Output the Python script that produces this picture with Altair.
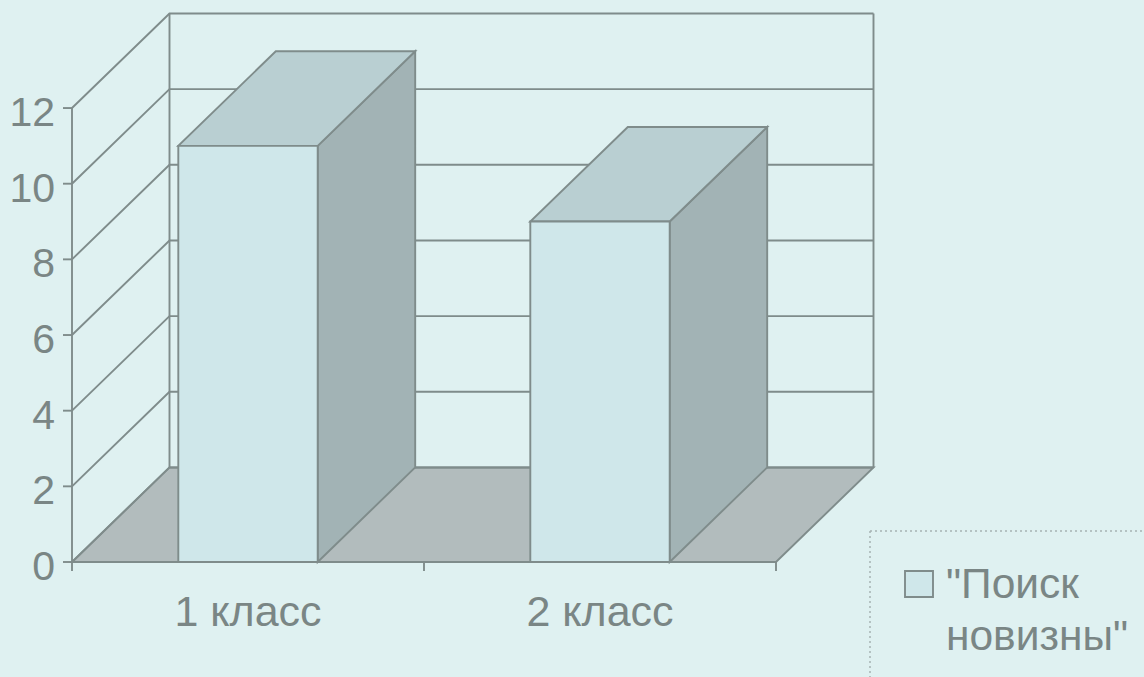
import altair as alt
import pandas as pd

# Chart content
categories = ["1 класс", "2 класс"]
values = [11, 9]
y_ticks = [0, 2, 4, 6, 8, 10, 12]
legend_lines = ['"Поиск', 'новизны"']

# Colours
BG = "#dff1f1"
FRONT = "#cfe7ea"
TOP = "#b9cfd2"
SIDE = "#a2b3b5"
FLOOR = "#b2bcbd"
LINE = "#7f8c8b"
TEXT = "#7a8685"
FONT = "Liberation Sans"
SW = 1.9

W, H = 1144, 677
ORIGIN_X, ORIGIN_Y = 72, 562
CAT_PX, UNIT_PX = 352, 37.83
DEPTH_X, DEPTH_Y = 97.5 / CAT_PX, 2.5
BAR_HALF = 0.198
Y_MAX = 12
N = len(categories)

x_scale = alt.Scale(domain=[-ORIGIN_X / CAT_PX, (W - ORIGIN_X) / CAT_PX], nice=False, zero=False)
y_scale = alt.Scale(domain=[(ORIGIN_Y - H) / UNIT_PX, ORIGIN_Y / UNIT_PX], nice=False, zero=False)
X = alt.X("x:Q", scale=x_scale, axis=None)
Y = alt.Y("y:Q", scale=y_scale, axis=None, stack=None)

# Wireframe of the walls and axes, one polyline per id
segments = []


def seg(name, *pts):
    for i, (px, py) in enumerate(pts):
        segments.append({"id": name, "o": i, "x": px, "y": py})


for t in y_ticks:
    seg(f"wall{t}", (0, t), (DEPTH_X, t + DEPTH_Y), (N + DEPTH_X, t + DEPTH_Y))
seg("back_left", (DEPTH_X, DEPTH_Y), (DEPTH_X, Y_MAX + DEPTH_Y))
seg("back_right", (N + DEPTH_X, DEPTH_Y), (N + DEPTH_X, Y_MAX + DEPTH_Y))
seg("axis_y", (0, 0), (0, Y_MAX))
seg("axis_x", (0, 0), (N, 0))

floor_df = pd.DataFrame(
    [
        {"y": 0, "x": 0, "x2": N},
        {"y": DEPTH_Y, "x": DEPTH_X, "x2": N + DEPTH_X},
    ]
)

floor = (
    alt.Chart(floor_df)
    .mark_area(orient="horizontal", color=FLOOR, opacity=1, stroke=LINE, strokeWidth=SW)
    .encode(y=Y, x=X, x2="x2:Q")
)
walls = (
    alt.Chart(pd.DataFrame(segments))
    .mark_line(color=LINE, strokeWidth=SW)
    .encode(x=X, y=Y, detail="id:N", order="o:Q")
)

# Tick marks below the floor and left of the value axis
y_tick_df = pd.DataFrame({"y": y_ticks, "x": [0] * len(y_ticks)})
y_tick_marks = (
    alt.Chart(y_tick_df)
    .transform_calculate(x0=f"datum.x - {9 / CAT_PX}")
    .mark_rule(color=LINE, strokeWidth=SW)
    .encode(x=alt.X("x0:Q", scale=x_scale, axis=None), x2="x:Q", y=Y)
)
x_tick_df = pd.DataFrame({"x": list(range(N + 1))})
x_tick_marks = (
    alt.Chart(x_tick_df)
    .transform_calculate(y0=f"{-9 / UNIT_PX}", y1="0")
    .mark_rule(color=LINE, strokeWidth=SW)
    .encode(x=X, y=alt.Y("y0:Q", scale=y_scale, axis=None), y2="y1:Q")
)

# Three visible faces of every bar
fronts, tops, sides = [], [], []
for i, v in enumerate(values):
    a, b = i + 0.5 - BAR_HALF, i + 0.5 + BAR_HALF
    fronts.append({"x": a, "x2": b, "y": 0, "y2": v})
    tops.append({"bar": i, "y": v, "x": a, "x2": b})
    tops.append({"bar": i, "y": v + DEPTH_Y, "x": a + DEPTH_X, "x2": b + DEPTH_X})
    sides.append({"bar": i, "x": b, "y": 0, "y2": v})
    sides.append({"bar": i, "x": b + DEPTH_X, "y": DEPTH_Y, "y2": v + DEPTH_Y})

front_layer = (
    alt.Chart(pd.DataFrame(fronts))
    .mark_rect(fill=FRONT, stroke=LINE, strokeWidth=SW)
    .encode(x=X, x2="x2:Q", y=Y, y2="y2:Q")
)
top_layer = (
    alt.Chart(pd.DataFrame(tops))
    .mark_area(orient="horizontal", color=TOP, opacity=1, stroke=LINE, strokeWidth=SW)
    .encode(y=Y, x=X, x2="x2:Q", detail="bar:N")
)
side_layer = (
    alt.Chart(pd.DataFrame(sides))
    .mark_area(orient="vertical", color=SIDE, opacity=1, stroke=LINE, strokeWidth=SW)
    .encode(x=X, y=Y, y2="y2:Q", detail="bar:N")
)

# Axis labels
y_labels = (
    alt.Chart(y_tick_df)
    .mark_text(align="right", baseline="middle", dx=-17, dy=6, font=FONT, fontSize=41, color=TEXT)
    .encode(x=X, y=Y, text="y:Q")
)
x_label_df = pd.DataFrame({"x": [i + 0.5 for i in range(N)], "label": categories})
x_labels = (
    alt.Chart(x_label_df)
    .mark_text(align="center", baseline="alphabetic", dy=64, font=FONT, fontSize=43, color=TEXT)
    .encode(x=X, y=alt.value(ORIGIN_Y), text="label:N")
)

# Legend block with dotted frame
frame = alt.Chart(pd.DataFrame({"a": [0]})).mark_rule(
    color="#a6b3b3", strokeWidth=1.5, strokeDash=[2, 3]
)
frame_top = frame.encode(x=alt.value(870), x2=alt.value(W), y=alt.value(531))
frame_left = frame.encode(x=alt.value(870), y=alt.value(531), y2=alt.value(H))
swatch = (
    alt.Chart(pd.DataFrame({"a": [0]}))
    .mark_rect(fill=FRONT, stroke=LINE, strokeWidth=SW)
    .encode(x=alt.value(905), x2=alt.value(933), y=alt.value(571), y2=alt.value(597))
)
legend_text = [
    alt.Chart(pd.DataFrame({"t": [line]}))
    .mark_text(align="left", baseline="alphabetic", font=FONT, fontSize=42.5, color=TEXT)
    .encode(x=alt.value(946), y=alt.value(598 + 52 * i), text="t:N")
    for i, line in enumerate(legend_lines)
]

chart = (
    alt.layer(
        floor,
        walls,
        y_tick_marks,
        x_tick_marks,
        side_layer,
        top_layer,
        front_layer,
        y_labels,
        x_labels,
        frame_top,
        frame_left,
        swatch,
        *legend_text,
    )
    .resolve_scale(x="shared", y="shared")
    .properties(width=W, height=H, background=BG, padding=0, autosize=alt.AutoSizeParams(type="none"))
    .configure_view(stroke=None)
)

chart.save("out.html", embed_options={"renderer": "svg", "actions": False})
